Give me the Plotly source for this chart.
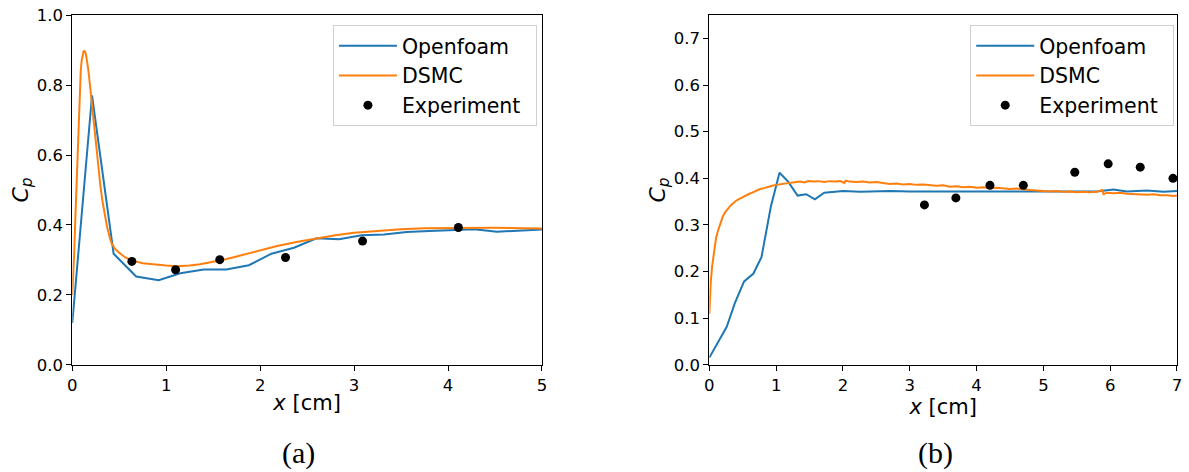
import plotly.graph_objects as go

# ---- (a) left panel data ----
a_foam_x = [0.0, 0.21, 0.44, 0.68, 0.92, 1.15, 1.40, 1.64, 1.88, 2.12, 2.36, 2.60, 2.84,
            3.08, 3.32, 3.56, 3.80, 4.04, 4.28, 4.52, 4.76, 5.0]
a_foam_y = [0.12, 0.77, 0.318, 0.253, 0.242, 0.262, 0.273, 0.273, 0.285, 0.318, 0.335, 0.362,
            0.359, 0.371, 0.373, 0.380, 0.383, 0.385, 0.388, 0.381, 0.384, 0.387]

a_dsmc_x = [0.0, 0.01, 0.02, 0.03, 0.04, 0.05, 0.06, 0.07, 0.08, 0.09, 0.10, 0.11, 0.12,
            0.128, 0.136, 0.145, 0.155, 0.17, 0.19, 0.21, 0.23, 0.25, 0.275, 0.30, 0.32,
            0.34, 0.37, 0.40, 0.42, 0.45, 0.49, 0.56, 0.63, 0.75, 0.87, 1.0, 1.11, 1.25,
            1.36, 1.47, 1.58, 1.72, 1.86, 2.0, 2.18, 2.4, 2.59, 2.8, 3.0, 3.25, 3.5, 3.75,
            4.0, 4.5, 5.0]
a_dsmc_y = [0.20, 0.25, 0.32, 0.40, 0.48, 0.57, 0.65, 0.73, 0.79, 0.84, 0.87, 0.888, 0.896,
            0.897, 0.895, 0.888, 0.875, 0.845, 0.795, 0.74, 0.69, 0.64, 0.575, 0.51, 0.47,
            0.435, 0.395, 0.362, 0.347, 0.334, 0.323, 0.308, 0.299, 0.291, 0.287, 0.284,
            0.282, 0.284, 0.288, 0.293, 0.299, 0.308, 0.318, 0.328, 0.340, 0.352, 0.362,
            0.371, 0.378, 0.384, 0.388, 0.391, 0.392, 0.392, 0.390]

a_exp_x = [0.634, 1.10, 1.57, 2.27, 3.09, 4.11]
a_exp_y = [0.296, 0.272, 0.301, 0.307, 0.354, 0.393]

# ---- (b) right panel data ----
b_foam_x = [0.0, 0.26, 0.38, 0.52, 0.66, 0.78, 0.92, 1.05, 1.18, 1.32, 1.45, 1.58, 1.72,
            2.0, 2.26, 2.70, 3.0, 3.5, 4.0, 4.5, 5.0, 5.5, 5.8, 6.05, 6.25, 6.55, 6.8, 7.0]
b_foam_y = [0.016, 0.082, 0.132, 0.179, 0.196, 0.231, 0.339, 0.412, 0.393, 0.363, 0.366,
            0.355, 0.369, 0.373, 0.371, 0.373, 0.372, 0.372, 0.372, 0.372, 0.371, 0.372,
            0.372, 0.376, 0.372, 0.374, 0.371, 0.373]

b_dsmc_x = [0.00, 0.01, 0.02, 0.04, 0.06, 0.08, 0.10, 0.13, 0.16, 0.20, 0.24, 0.28, 0.32,
            0.36, 0.40, 0.45, 0.50, 0.55, 0.60, 0.65, 0.70, 0.76, 0.82, 0.88, 0.94, 1.00,
            1.08, 1.16, 1.24, 1.30, 1.36, 1.42, 1.48, 1.56, 1.64, 1.72, 1.80, 1.88, 1.96,
            2.02, 2.04, 2.10, 2.20, 2.30, 2.40, 2.50, 2.60, 2.70, 2.80, 2.90, 3.00, 3.10,
            3.20, 3.30, 3.40, 3.50, 3.60, 3.70, 3.80, 3.90, 4.00, 4.10, 4.20, 4.30, 4.40,
            4.50, 4.60, 4.70, 4.80, 4.90, 5.00, 5.10, 5.20, 5.30, 5.40, 5.50, 5.60, 5.70,
            5.80, 5.88, 5.90, 5.95, 6.05, 6.15, 6.25, 6.35, 6.45, 6.55, 6.65, 6.75, 6.85,
            6.95, 7.00]
b_dsmc_y = [0.110, 0.150, 0.175, 0.210, 0.235, 0.255, 0.272, 0.288, 0.302, 0.318, 0.328,
            0.336, 0.342, 0.347, 0.352, 0.356, 0.360, 0.364, 0.367, 0.370, 0.374, 0.377,
            0.379, 0.382, 0.384, 0.386, 0.388, 0.389, 0.391, 0.392, 0.393, 0.391, 0.394,
            0.393, 0.394, 0.392, 0.394, 0.393, 0.394, 0.390, 0.395, 0.393, 0.392, 0.393,
            0.391, 0.392, 0.390, 0.388, 0.389, 0.387, 0.388, 0.386, 0.387, 0.385, 0.384,
            0.385, 0.382, 0.383, 0.381, 0.382, 0.380, 0.381, 0.379, 0.380, 0.378, 0.377,
            0.378, 0.376, 0.375, 0.374, 0.373, 0.372, 0.373, 0.371, 0.372, 0.370, 0.371,
            0.370, 0.371, 0.375, 0.366, 0.369, 0.368, 0.369, 0.367, 0.366, 0.366, 0.365,
            0.366, 0.364, 0.364, 0.362, 0.363]

b_exp_x = [3.22, 3.69, 4.20, 4.70, 5.47, 5.97, 6.45, 6.94]
b_exp_y = [0.343, 0.358, 0.385, 0.385, 0.413, 0.431, 0.424, 0.400]

series_names = ["Openfoam", "DSMC", "Experiment\u2002"]

BLUE = "#1f77b4"
ORANGE = "#ff7f0e"
FONT = "DejaVu Sans"

fig = go.Figure()

def add_panel(xa, ya, leg, fx, fy, dx, dy, ex, ey):
    fig.add_trace(go.Scatter(x=fx, y=fy, mode="lines", name=series_names[0],
                             line=dict(color=BLUE, width=2), xaxis=xa, yaxis=ya, legend=leg))
    fig.add_trace(go.Scatter(x=dx, y=dy, mode="lines", name=series_names[1],
                             line=dict(color=ORANGE, width=2), xaxis=xa, yaxis=ya, legend=leg))
    fig.add_trace(go.Scatter(x=ex, y=ey, mode="markers", name=series_names[2],
                             marker=dict(color="black", size=9), xaxis=xa, yaxis=ya, legend=leg))

add_panel("x", "y", "legend", a_foam_x, a_foam_y, a_dsmc_x, a_dsmc_y, a_exp_x, a_exp_y)
add_panel("x2", "y2", "legend2", b_foam_x, b_foam_y, b_dsmc_x, b_dsmc_y, b_exp_x, b_exp_y)

axis_common = dict(showline=True, linecolor="black", linewidth=1, mirror=True,
                   ticks="outside", ticklen=5, tickcolor="black", tickwidth=1,
                   showgrid=False, zeroline=False, automargin=False,
                   tickfont=dict(family=FONT, size=16.5, color="black"))

legend_common = dict(y=0.947, xanchor="left", yanchor="top",
                     bordercolor="#d0d0d0", borderwidth=1, bgcolor="rgba(255,255,255,0.8)",
                     font=dict(family=FONT, size=20.5), tracegroupgap=0, itemwidth=58)

ydom = [0.2267, 0.9682]
fig.update_layout(
    width=1189, height=472,
    margin=dict(l=0, r=0, t=0, b=0, autoexpand=False),
    paper_bgcolor="white", plot_bgcolor="white",
    font=dict(family=FONT, color="black"),
    xaxis=dict(domain=[0.0608, 0.4558], range=[0, 5], dtick=1, anchor="y",
               title=dict(text="<i>x</i> [cm]", font=dict(size=21), standoff=1), **axis_common),
    yaxis=dict(domain=ydom, range=[0, 1.0], dtick=0.2, tickformat=".1f", anchor="x",
               title=dict(text="<i>C</i><sub><i>p</i></sub>", font=dict(size=22), standoff=2),
               **axis_common),
    xaxis2=dict(domain=[0.5966, 0.9899], range=[0, 7], dtick=1, anchor="y2",
                title=dict(text="<i>x</i> [cm]", font=dict(size=21), standoff=1), **axis_common),
    yaxis2=dict(domain=ydom, range=[0, 0.75], dtick=0.1, tickformat=".1f", anchor="x2",
                title=dict(text="<i>C</i><sub><i>p</i></sub>", font=dict(size=22), standoff=2),
                **axis_common),
    legend=dict(x=0.280, **legend_common),
    legend2=dict(x=0.816, **legend_common),
    annotations=[
        dict(text="(a)", x=298 / 1189, y=(472 - 453) / 472, xref="paper", yref="paper",
             xanchor="center", yanchor="middle",
             showarrow=False, font=dict(family="Liberation Serif", size=30)),
        dict(text="(b)", x=935 / 1189, y=(472 - 453) / 472, xref="paper", yref="paper",
             xanchor="center", yanchor="middle",
             showarrow=False, font=dict(family="Liberation Serif", size=30)),
    ],
)

fig.write_html("out.html")
